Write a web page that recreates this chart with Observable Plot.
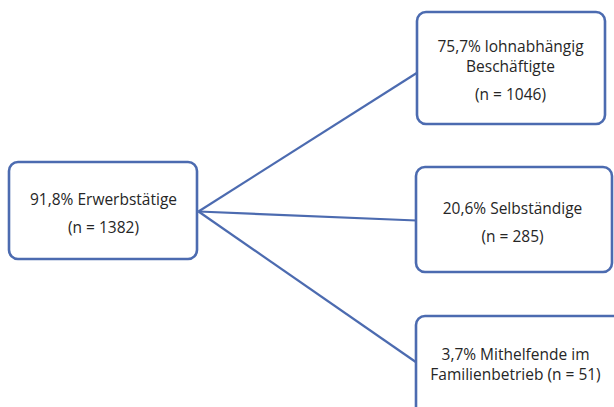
<!DOCTYPE html>
<html>
<head>
<meta charset="utf-8">
<script src="https://cdn.jsdelivr.net/npm/d3@7"></script>
<script src="https://cdn.jsdelivr.net/npm/@observablehq/plot@0.6"></script>
<style>
  html, body { margin: 0; padding: 0; background: #fff; overflow: hidden; }
  #chart { width: 614px; height: 407px; }
</style>
</head>
<body>
<div id="chart"></div>
<script>
// ---- data ----
const rootLabel = ["91,8% Erwerbstätige", "(n = 1382)"];
const childLabels = [
  ["75,7% lohnabhängig", "Beschäftigte", "(n = 1046)"],
  ["20,6% Selbständige", "(n = 285)"],
  ["3,7% Mithelfende im", "Familienbetrieb (n = 51)"]
];
const childShares = [75.7, 20.6, 3.7];
const childN = [1046, 285, 51];

// ---- layout (diagram geometry, pixel coordinates) ----
const rootBox = {x1: 9, x2: 197, y1: 162, y2: 259};
const childBoxes = [
  {x1: 417, x2: 605, y1: 12, y2: 124},
  {x1: 416, x2: 612, y1: 167, y2: 272},
  {x1: 416, x2: 650, y1: 316, y2: 450}
];
const anchorRoot = {x: 198, y: 211};
const anchorChild = [72, 220, 362];
const rootLineY = [200, 228];
const childLineY = [[47, 67, 95], [209, 237], [355, 375]];

const boxes = [rootBox, ...childBoxes];
const links = childBoxes.map((b, i) => ({
  x1: anchorRoot.x, y1: anchorRoot.y, x2: b.x1, y2: anchorChild[i]
}));
const texts = [];
rootLabel.forEach((t, j) => texts.push({x: 103, y: rootLineY[j], t}));
const childCx = [510, 512, 515];
childLabels.forEach((lines, i) => {
  lines.forEach((t, j) => texts.push({x: childCx[i], y: childLineY[i][j], t}));
});

const blue = "#4c6bb0";
const chart = Plot.plot({
  width: 614,
  height: 407,
  margin: 0,
  x: {domain: [0, 614], axis: null},
  y: {domain: [0, 407], range: [0, 407], axis: null},
  style: {fontFamily: "'Open Sans', sans-serif", background: "white"},
  marks: [
    Plot.link(links, {x1: "x1", y1: "y1", x2: "x2", y2: "y2", stroke: blue, strokeWidth: 2.2}),
    Plot.rect(boxes, {x1: "x1", x2: "x2", y1: "y1", y2: "y2", fill: "white", stroke: blue, strokeWidth: 2.6, rx: 9}),
    Plot.text(texts, {x: "x", y: "y", text: "t", fontSize: 15.5, fontWeight: 500, fill: "#262626", textAnchor: "middle"})
  ]
});
document.getElementById("chart").appendChild(chart);
</script>
</body>
</html>
